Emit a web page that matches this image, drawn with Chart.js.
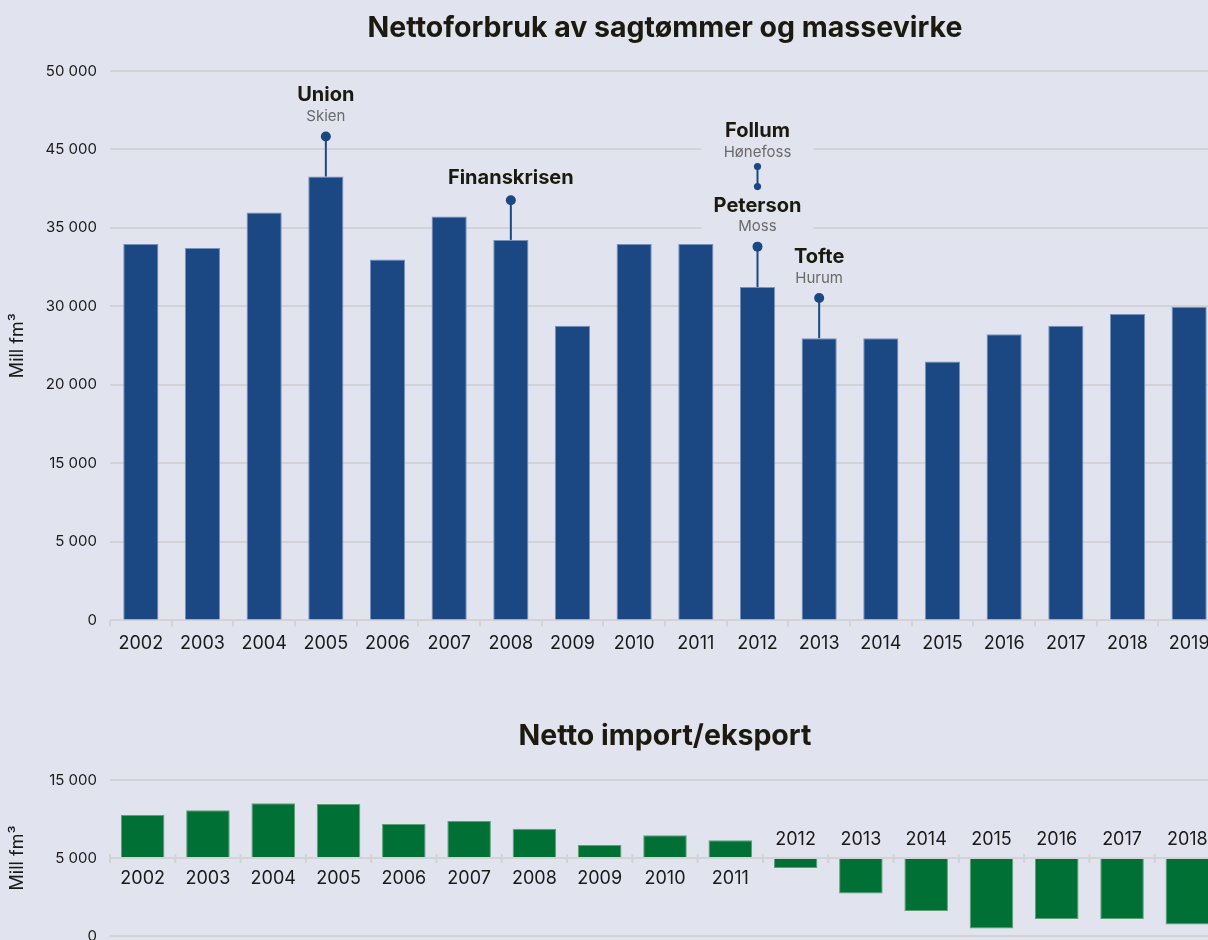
<!DOCTYPE html>
<html><head><meta charset="utf-8">
<script src="https://cdn.jsdelivr.net/npm/chart.js@4.4.1/dist/chart.umd.min.js"></script>
<style>
html,body{margin:0;padding:0;background:#e1e3ef;overflow:hidden;width:1208px;height:940px;}
#wrap{position:relative;width:1208px;height:940px;overflow:hidden;background:#e1e3ef;}
#top{position:absolute;left:0;top:0;}
#bottom{position:absolute;left:0;top:670px;}
</style></head>
<body><div id="wrap">
<canvas id="top" width="1230" height="670"></canvas>
<canvas id="bottom" width="1230" height="290"></canvas>
</div>
<script>
// ---- data ----
const years = ['2002','2003','2004','2005','2006','2007','2008','2009','2010','2011','2012','2013','2014','2015','2016','2017','2018','2019'];
const consumption = [34260,33896,37115,40398,32856,36750,34625,26810,34260,34260,30339,25689,25689,23555,26053,26810,27877,28543];
const tradeYears = ['2002','2003','2004','2005','2006','2007','2008','2009','2010','2011','2012','2013','2014','2015','2016','2017','2018'];
const netTrade = [3938,4368,5009,4945,3114,3388,2683,1191,2079,1621,-916,-3260,-4854,-6466,-5586,-5586,-6099];
const topTickLabels = ['0','5 000','15 000','20 000','30 000','35 000','45 000','50 000'];
const bottomTickLabels = ['0','5 000','15 000'];
const topAxisMax = 50000;
const annotYears = ['2005','2008','2012','2012','2013'];
const annotTitles = ['Union','Finanskrisen','Follum','Peterson','Tofte'];
const annotPlaces = ['Skien','','Hønefoss','Moss','Hurum'];
const annotTopValues = [44045,38237,41309,34014,29336];
const annotBaseValues = [null,null,39486,null,null];

// ---- styles ----
const BG = '#e1e3ef', BLUE = '#1b4883', GREEN = '#007034', GRID = '#d3d3d5', TEXT = '#1a1a1a', TITLE = '#1c1a0e', SUB = '#6a6a6a';
Chart.defaults.font.family = 'Inter';
Chart.defaults.color = TEXT;

const annotPlugin = {
  id: 'annot',
  afterDatasetsDraw(chart) {
    const {ctx, scales: {x, y}} = chart;
    const items = annotYears.map((yr, i) => {
      const idx = years.indexOf(yr);
      const px = x.getPixelForValue(idx);
      const hasBase = annotBaseValues[i] !== null;
      const topY = y.getPixelForValue(annotTopValues[i]);
      const baseY = y.getPixelForValue(hasBase ? annotBaseValues[i] : consumption[idx]);
      const gap = hasBase ? 14.5 : 20;
      let titleY, placeY = null;
      if (annotPlaces[i]) { placeY = topY - gap; titleY = placeY - 21; }
      else { titleY = topY - 22; }
      return {i, px, hasBase, topY, baseY, titleY, placeY};
    });
    ctx.save();
    // label boxes
    items.forEach(it => {
      ctx.font = 'bold 20px Inter';
      const w1 = ctx.measureText(annotTitles[it.i]).width;
      ctx.font = '15px Inter';
      const w2 = annotPlaces[it.i] ? ctx.measureText(annotPlaces[it.i]).width : 0;
      const w = Math.max(112, Math.max(w1, w2) + 16);
      const top = it.titleY - 13;
      const bottom = it.placeY !== null ? it.placeY + 9 : it.titleY + 12;
      ctx.fillStyle = BG;
      ctx.fillRect(it.px - w / 2, top, w, bottom - top);
    });
    // stems & dots
    items.forEach(it => {
      ctx.strokeStyle = BLUE; ctx.lineWidth = 2;
      ctx.beginPath(); ctx.moveTo(it.px, it.baseY); ctx.lineTo(it.px, it.topY); ctx.stroke();
      ctx.fillStyle = BLUE;
      const r = it.hasBase ? 3.6 : 5;
      ctx.beginPath(); ctx.arc(it.px, it.topY, r, 0, Math.PI * 2); ctx.fill();
      if (it.hasBase) { ctx.beginPath(); ctx.arc(it.px, it.baseY, r, 0, Math.PI * 2); ctx.fill(); }
    });
    // texts
    ctx.textAlign = 'center'; ctx.textBaseline = 'middle';
    items.forEach(it => {
      ctx.fillStyle = TITLE; ctx.font = 'bold 20px Inter';
      ctx.fillText(annotTitles[it.i], it.px, it.titleY);
      if (it.placeY !== null) {
        ctx.fillStyle = SUB; ctx.font = '15px Inter';
        ctx.fillText(annotPlaces[it.i], it.px, it.placeY);
      }
    });
    ctx.restore();
  }
};

const tradeAxisPlugin = {
  id: 'tradeAxis',
  afterDatasetsDraw(chart) {
    const {ctx, scales: {x, y}} = chart;
    const y0 = y.getPixelForValue(0);
    const w = x.width / tradeYears.length;
    ctx.save();
    ctx.strokeStyle = GRID; ctx.lineWidth = 2;
    for (let i = 0; i <= tradeYears.length; i++) {
      const tx = x.left + i * w;
      ctx.beginPath(); ctx.moveTo(tx, y0 - 4); ctx.lineTo(tx, y0 + 5); ctx.stroke();
    }
    ctx.fillStyle = TEXT; ctx.font = '18px Inter';
    ctx.textAlign = 'center'; ctx.textBaseline = 'middle';
    tradeYears.forEach((yr, i) => {
      const px = x.getPixelForValue(i);
      ctx.fillText(yr, px, netTrade[i] >= 0 ? y0 + 20.5 : y0 - 18.5);
    });
    ctx.restore();
  }
};

new Chart(document.getElementById('top'), {
  type: 'bar',
  data: {labels: years, datasets: [{data: consumption, backgroundColor: BLUE, borderColor: '#7590bb', borderWidth: 1, barPercentage: 0.57, categoryPercentage: 1}]},
  options: {
    responsive: false, animation: false, events: [],
    layout: {padding: {left: 0, right: 10, top: 0, bottom: 10}},
    plugins: {
      legend: {display: false}, tooltip: {enabled: false},
      title: {display: true, fullSize: false, text: 'Nettoforbruk av sagtømmer og massevirke', color: TITLE,
              font: {size: 28.5, weight: 'bold', family: 'Inter'}, padding: {top: 11, bottom: 25.8}}
    },
    scales: {
      x: {grid: {drawOnChartArea: false, color: GRID, lineWidth: 2, tickLength: 6, offset: true},
          border: {display: false},
          ticks: {color: TEXT, font: {size: 18}, padding: 6, maxRotation: 0, autoSkip: false}},
      y: {min: 0, max: topAxisMax,
          afterBuildTicks: ax => { ax.ticks = topTickLabels.map((_, i) => ({value: i * topAxisMax / (topTickLabels.length - 1)})); },
          afterFit: ax => { ax.width = 110; },
          grid: {color: GRID, lineWidth: 2, drawTicks: false},
          border: {display: false},
          ticks: {color: TEXT, font: {size: 15}, padding: 13, callback: (v, i) => topTickLabels[i]},
          title: {display: true, text: 'Mill fm³', color: TEXT, font: {size: 18}, padding: {top: 7, bottom: 0}}}
    }
  },
  plugins: [annotPlugin]
});

const S = topAxisMax / (topTickLabels.length - 1);
new Chart(document.getElementById('bottom'), {
  type: 'bar',
  data: {labels: tradeYears, datasets: [{data: netTrade, backgroundColor: GREEN, borderColor: '#5e9f78', borderWidth: 1, barPercentage: 0.667, categoryPercentage: 1}]},
  options: {
    responsive: false, animation: false, events: [],
    layout: {padding: {left: 0, right: 10, top: 0, bottom: 24}},
    plugins: {
      legend: {display: false}, tooltip: {enabled: false},
      title: {display: true, fullSize: false, text: 'Netto import/eksport', color: TITLE,
              font: {size: 28.5, weight: 'bold', family: 'Inter'}, padding: {top: 48.9, bottom: 26.9}}
    },
    scales: {
      x: {display: false},
      y: {min: -S, max: S,
          afterBuildTicks: ax => { ax.ticks = bottomTickLabels.map((_, i) => ({value: -S + i * S})); },
          afterFit: ax => { ax.width = 110; },
          grid: {color: GRID, lineWidth: 2, drawTicks: false},
          border: {display: false},
          ticks: {color: TEXT, font: {size: 15}, padding: 13, callback: (v, i) => bottomTickLabels[i]},
          title: {display: true, text: 'Mill fm³', color: TEXT, font: {size: 18}, padding: {top: 7, bottom: 0}}}
    }
  },
  plugins: [tradeAxisPlugin]
});
</script>
</body></html>
